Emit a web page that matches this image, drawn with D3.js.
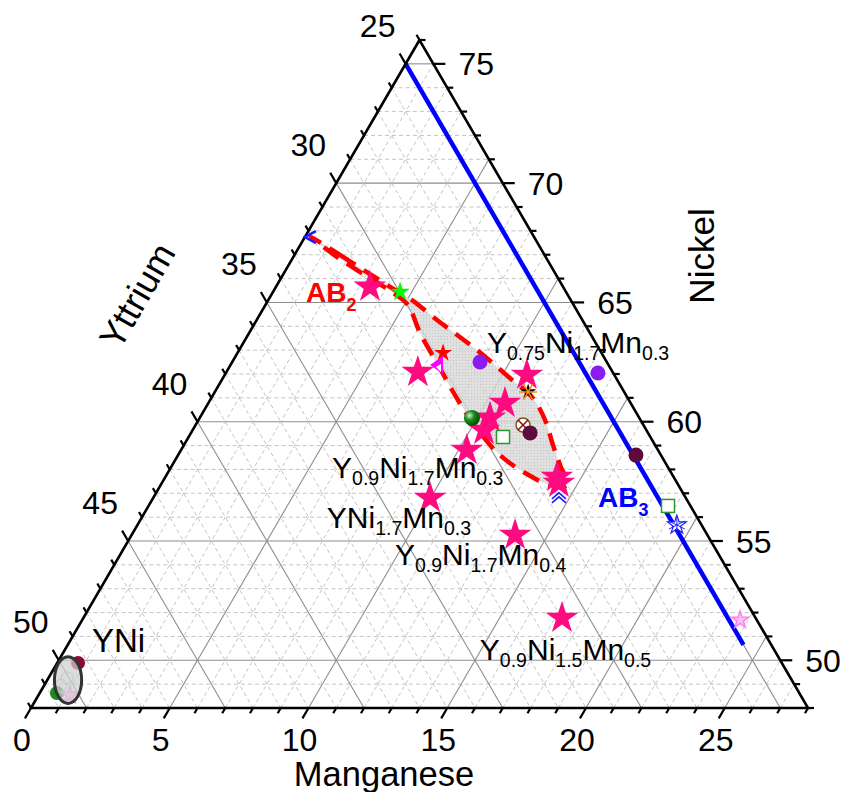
<!DOCTYPE html>
<html><head><meta charset="utf-8">
<script src="https://cdn.jsdelivr.net/npm/d3@7"></script>
<style>body{margin:0;background:#fff} svg{display:block} text{font-family:"Liberation Sans",Arial,Helvetica,sans-serif}</style>
</head><body>
<svg id="chart" width="842" height="792"></svg>
<script>
// ---- axis ranges (partial ternary) ----
const mnDomain = [0, 28];
const yDomain  = [24, 52];
const niDomain = [48, 76];
const mnTickLabels = [0, 5, 10, 15, 20, 25];
const yTickLabels  = [25, 30, 35, 40, 45, 50];
const niTickLabels = [50, 55, 60, 65, 70, 75];

// ---- AB3 line (Y = 25 at.%) ----
const ab3Mn = [0, 24.35];
const ab3Ni = [75, 50.65];

// ---- AB2 region outline (Mn, Ni) ----
const ab2Mn = [0.22, 1.64, 3.12, 4.36, 5.18, 6.50, 7.68, 8.89, 10.34, 11.59, 12.49, 13.30, 13.97, 14.64,
               14.03, 12.88, 11.60, 10.28, 8.93, 7.48, 6.16, 5.14, 4.44, 3.20, 1.72];
const ab2Ni = [67.74, 66.99, 66.19, 65.52, 65.10, 64.26, 63.55, 62.80, 61.83, 60.99, 60.07, 59.02, 58.19, 57.35,
               57.35, 57.85, 58.60, 59.65, 60.91, 62.38, 63.72, 64.89, 65.35, 66.02, 66.82];

// ---- YNi ellipse ----
const yniCenter = [0.75, 49.17];   // Mn, Ni
const yniHalf   = [0.49, 0.98];    // half width (Mn units), half height (Ni units)

// ---- pink stars (this work) ----
const starMn = [3.39, 6.90, 10.89, 10.69, 10.46, 10.50, 10.30, 14.11, 14.31, 9.98, 13.82, 17.25];
const starNi = [65.65, 62.08, 61.96, 60.78, 60.16, 59.65, 58.81, 57.68, 57.43, 56.80, 55.25, 51.77];

// ---- literature markers ----
const litMn   = [0.18, 4.58, 7.41, 7.44, 8.93, 11.29, 9.81, 11.33, 11.80, 12.22, 14.58, 23.71, 18.72, 19.44, 13.41, 16.50,
                 0.75, 0.62, 0.67, 0.60, 1.13];
const litNi   = [67.74, 65.44, 62.88, 62.38, 62.50, 61.25, 60.16, 59.36, 59.86, 59.53, 56.89, 51.69, 56.47, 55.67, 62.04, 58.60,
                 49.89, 48.63, 49.26, 48.95, 48.54];
const litType = ["chevBlue", "starGreen", "starRed", "triMagenta", "circlePurple", "starBlackAst", "sphereGreen", "squareGreen",
                 "circleX", "circleMaroon", "chevUpBlue", "starLightPink", "squareGreen", "astBlue", "circlePurple", "circleMaroon",
                 "circleDarkRed", "circleGreen", "circleLightGreen", "circleLightGreen", "starLightPink"];

// ---- annotation labels ----
const labelText  = ["AB_{2}", "Y_{0.75}Ni_{1.7}Mn_{0.3}", "Y_{0.9}Ni_{1.7}Mn_{0.3}", "YNi_{1.7}Mn_{0.3}",
                    "Y_{0.9}Ni_{1.7}Mn_{0.4}", "Y_{0.9}Ni_{1.5}Mn_{0.5}", "AB_{3}", "YNi"];
const labelMn    = [1.40, 8.99, 6.03, 6.89, 10.12, 15.17, 16.22, 1.02];
const labelNi    = [65.02, 62.88, 57.64, 55.54, 53.99, 50.01, 56.43, 50.35];
const labelColor = ["#ff0000", "#000", "#000", "#000", "#000", "#000", "#0000ff", "#000"];
const labelBold  = [true, false, false, false, false, false, true, false];
const labelSize  = [28, 30, 30, 30, 30, 30, 28, 33];

// ================= drawing =================
const svg = d3.select("#chart");
const A = {x: 419.5, y: 40}, B = {x: 31, y: 708}, C = {x: 808, y: 708};
const fa = d3.scaleLinear().domain(niDomain).range([0, 1]); // Ni -> top weight
const fc = d3.scaleLinear().domain(mnDomain).range([0, 1]); // Mn -> right weight
function P(mn, ni) {
  const a = fa(ni), c = fc(mn), b = 1 - a - c;
  return [a * A.x + b * B.x + c * C.x, a * A.y + b * B.y + c * C.y];
}
const lenAB = Math.hypot(B.x - A.x, B.y - A.y);
const dLeft = [(B.x - A.x) / lenAB, (B.y - A.y) / lenAB];    // down-left
const dUp   = [(A.x - C.x) / lenAB, (A.y - C.y) / lenAB];    // up-left

const grid = svg.append("g");
function gline(p, q, major) {
  grid.append("line").attr("x1", p[0]).attr("y1", p[1]).attr("x2", q[0]).attr("y2", q[1])
    .attr("stroke", major ? "#8e8e8e" : "#bdbdbd").attr("stroke-width", major ? 1.1 : 0.9)
    .attr("stroke-dasharray", major ? null : "4,3");
}
d3.range(niDomain[0] + 1, niDomain[1]).forEach(v => gline(P(0, v), P(100 - yDomain[0] - v, v), v % 5 === 0));
d3.range(mnDomain[0] + 1, mnDomain[1]).forEach(v => gline(P(v, niDomain[0]), P(v, 100 - yDomain[0] - v), v % 5 === 0));
d3.range(yDomain[0] + 1, yDomain[1]).forEach(v => gline(P(0, 100 - v), P(100 - niDomain[0] - v, niDomain[0]), v % 5 === 0));

// AB2 region
const ab2Pts = ab2Mn.map((m, i) => P(m, ab2Ni[i]));
const defs = svg.append("defs");
const pat = defs.append("pattern").attr("id", "hatch").attr("width", 3).attr("height", 3).attr("patternUnits", "userSpaceOnUse");
pat.append("rect").attr("width", 3).attr("height", 3).attr("fill", "#dadada");
pat.append("rect").attr("width", 1).attr("height", 1).attr("fill", "#bcbcbc");
const rg = defs.append("radialGradient").attr("id", "sph").attr("cx", "35%").attr("cy", "35%").attr("r", "65%");
rg.append("stop").attr("offset", "0%").attr("stop-color", "#d8f0d8");
rg.append("stop").attr("offset", "45%").attr("stop-color", "#1c8c1c");
rg.append("stop").attr("offset", "100%").attr("stop-color", "#005000");

const areaLine = d3.line().curve(d3.curveCatmullRomClosed.alpha(0.5));
svg.append("path").attr("d", areaLine(ab2Pts)).attr("fill", "url(#hatch)").attr("fill-opacity", 0.85).attr("stroke", "none");
svg.append("path").attr("d", areaLine(ab2Pts)).attr("fill", "none").attr("stroke", "#ff0000")
  .attr("stroke-width", 4.5).attr("stroke-dasharray", "18,10");

// AB3 line
svg.append("path").attr("d", d3.line()(ab3Mn.map((m, i) => P(m, ab3Ni[i]))))
  .attr("stroke", "#0000ff").attr("stroke-width", 4.5).attr("fill", "none");

// triangle frame & ticks
const axes = svg.append("g").attr("stroke", "#000").attr("stroke-width", 2.2);
axes.append("path").attr("d", d3.line()([[A.x, A.y], [B.x, B.y], [C.x, C.y]]) + "Z").attr("fill", "none").attr("stroke-width", 2.6);
function tick(p, d, major) {
  const L = major ? 12 : 6;
  axes.append("line").attr("x1", p[0]).attr("y1", p[1]).attr("x2", p[0] + d[0] * L).attr("y2", p[1] + d[1] * L);
}
d3.range(mnDomain[0], mnDomain[1] + 1).forEach(v => tick(P(v, niDomain[0]), dLeft, v % 5 === 0));
d3.range(yDomain[0], yDomain[1] + 1).forEach(v => tick(P(0, 100 - v), dUp, v % 5 === 0));
d3.range(niDomain[0], niDomain[1] + 1).forEach(v => tick(P(100 - yDomain[0] - v, v), [1, 0], v % 5 === 0));

const tl = svg.append("g").attr("font-size", 32).attr("fill", "#000");
mnTickLabels.forEach(v => { const p = P(v, niDomain[0]);
  tl.append("text").attr("x", p[0] - 9).attr("y", p[1] + 43).attr("text-anchor", "middle").text(v); });
yTickLabels.forEach(v => { const p = P(0, 100 - v);
  tl.append("text").attr("x", p[0] - 28).attr("y", p[1] - 27).attr("text-anchor", "middle").text(v); });
niTickLabels.forEach(v => { const p = P(100 - yDomain[0] - v, v);
  tl.append("text").attr("x", p[0] + 25).attr("y", p[1] + 11.5).attr("text-anchor", "start").text(v); });

// axis titles
svg.append("text").attr("x", 384).attr("y", 786).attr("text-anchor", "middle").attr("font-size", 34.5).text("Manganese");
svg.append("text").attr("transform", "translate(714,256) rotate(-90)").attr("text-anchor", "middle").attr("font-size", 35).text("Nickel");
svg.append("text").attr("transform", "translate(148,302) rotate(-60)").attr("text-anchor", "middle").attr("font-size", 36).text("Yttrium");

// markers
const mk = svg.append("g");
const star = s => d3.symbol(d3.symbolStar, s)();
function drawMarker(type, p) {
  const g = mk.append("g").attr("transform", `translate(${p[0]},${p[1]})`);
  switch (type) {
    case "starPink": g.append("path").attr("d", star(330)).attr("fill", "#ff0a80"); break;
    case "starGreen": g.append("path").attr("d", star(100)).attr("fill", "#00ff00").attr("stroke", "#00cc00").attr("stroke-width", 0.5); break;
    case "starRed": g.append("path").attr("d", star(100)).attr("fill", "#ff0000"); break;
    case "starLightPink": g.append("path").attr("d", star(90)).attr("fill", "#ffc0f4").attr("stroke", "#ff80ee").attr("stroke-width", 1.5); break;
    case "triMagenta":
      g.append("path").attr("d", "M-7,0L6,-9L6,9Z").attr("fill", "#ff00ff");
      g.append("path").attr("d", "M-1,2L4,-1L4,7Z").attr("fill", "#fff"); break;
    case "circlePurple": g.append("circle").attr("r", 7.5).attr("fill", "#8a1cf0"); break;
    case "circleMaroon": g.append("circle").attr("r", 7.5).attr("fill", "#5e0a3a"); break;
    case "circleDarkRed": g.append("circle").attr("r", 7).attr("fill", "#8b0a3a"); break;
    case "circleGreen": g.append("circle").attr("r", 7).attr("fill", "#1a8a1a"); break;
    case "circleLightGreen": g.append("circle").attr("r", 6).attr("fill", "none").attr("stroke", "#88cc88").attr("stroke-width", 1); break;
    case "sphereGreen": g.append("circle").attr("r", 8).attr("fill", "url(#sph)"); break;
    case "squareGreen": g.append("rect").attr("x", -6.5).attr("y", -6.5).attr("width", 13).attr("height", 13)
      .attr("fill", "#fff").attr("stroke", "#2a9a2a").attr("stroke-width", 1.5); break;
    case "circleX":
      g.append("circle").attr("r", 7).attr("fill", "#fff").attr("stroke", "#7a5a10").attr("stroke-width", 1.5);
      g.append("path").attr("d", "M-5,-5L5,5M5,-5L-5,5").attr("stroke", "#8b1010").attr("stroke-width", 1.5); break;
    case "starBlackAst":
      g.append("path").attr("d", star(80)).attr("fill", "#000");
      g.append("path").attr("d", "M-9,0L9,0M-4.5,-7.8L4.5,7.8M-4.5,7.8L4.5,-7.8").attr("stroke", "#ff8c1a").attr("stroke-width", 1.5); break;
    case "chevBlue":
      g.append("path").attr("d", "M6,-6L-5,0L6,6").attr("fill", "none").attr("stroke", "#1a1aff").attr("stroke-width", 2.5); break;
    case "chevUpBlue":
      g.append("path").attr("d", "M-7,3L0,-3L7,3M-7,7L0,1L7,7").attr("fill", "none").attr("stroke", "#1a1aff").attr("stroke-width", 1.6); break;
    case "astBlue":
      g.append("path").attr("d", star(110)).attr("fill", "#fff").attr("stroke", "#2020ff").attr("stroke-width", 1.2);
      g.append("path").attr("d", "M-8,-4L8,4M-8,4L8,-4M0,-9L0,9").attr("stroke", "#2020ff").attr("stroke-width", 1); break;
  }
}
starMn.forEach((m, i) => drawMarker("starPink", P(m, starNi[i])));
litMn.forEach((m, i) => drawMarker(litType[i], P(m, litNi[i])));

// YNi ellipse
const ec = P(yniCenter[0], yniCenter[1]);
const erx = Math.abs(P(yniCenter[0] + yniHalf[0], yniCenter[1])[0] - ec[0]);
const ery = Math.abs(P(yniCenter[0], yniCenter[1] + yniHalf[1])[1] - ec[1]);
svg.append("ellipse").attr("cx", ec[0]).attr("cy", ec[1]).attr("rx", erx).attr("ry", ery)
  .attr("fill", "#cfcfcf").attr("fill-opacity", 0.72).attr("stroke", "#333").attr("stroke-width", 3);

// annotation labels with subscripts
labelText.forEach((t, i) => {
  const p = P(labelMn[i], labelNi[i]);
  const s = labelSize[i], sub = labelBold[i] ? s * 0.64 : s * 0.65, sdy = labelBold[i] ? s * 0.34 : s * 0.24;
  const txt = svg.append("text").attr("x", p[0]).attr("y", p[1]).attr("font-size", s)
    .attr("fill", labelColor[i]).attr("font-weight", labelBold[i] ? "bold" : "normal");
  const parts = t.split(/(_\{[^}]*\})/).filter(x => x.length);
  let inSub = false;
  parts.forEach(part => {
    if (part.startsWith("_{")) {
      txt.append("tspan").attr("font-size", sub).attr("dy", sdy).text(part.slice(2, -1));
      inSub = true;
    } else {
      txt.append("tspan").attr("dy", inSub ? -sdy : 0).text(part);
      inSub = false;
    }
  });
});
</script>
</body></html>
